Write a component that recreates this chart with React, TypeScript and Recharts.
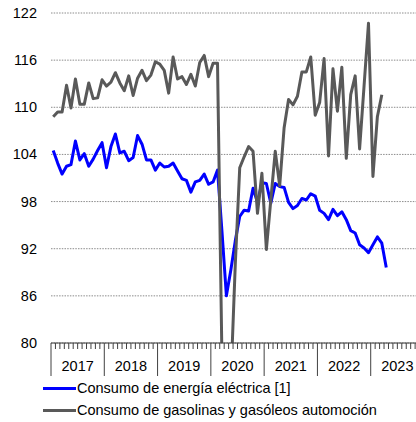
import { LineChart, Line, XAxis, YAxis, CartesianGrid } from "recharts"

// Monthly index, Jan 2017 .. Apr 2023
const YEARS = ["2017", "2018", "2019", "2020", "2021", "2022", "2023"]
const Y_TICKS = [80, 86, 92, 98, 104, 110, 116, 122]

const ELECTRICITY = [
  104.5, 102.9, 101.5, 102.5, 102.7, 105.7, 103.3, 104.1, 102.5, 103.4, 104.5, 105.5,
  102.3, 105.0, 106.6, 104.2, 104.4, 103.2, 103.6, 106.4, 105.3, 103.3, 103.3, 102.0,
  102.9, 102.4, 102.5, 102.9, 101.9, 100.9, 100.7, 99.2, 100.5, 100.7, 101.5, 100.2,
  100.5, 102.0, 94.2, 86.0, 89.3, 93.0, 96.1, 96.9, 96.8, 99.7, 97.9, 100.4,
  100.3, 97.8, 100.3, 99.9, 99.8, 97.9, 97.1, 97.5, 98.4, 98.2, 99.0, 98.7,
  96.9, 96.5, 95.7, 97.0, 96.2, 96.7, 95.7, 94.3, 94.0, 92.5, 92.1, 91.5,
  92.5, 93.5, 92.7, 89.6,
]

const FUELS = [
  108.8, 109.4, 109.4, 112.8, 109.9, 113.6, 110.4, 110.4, 113.1, 111.1, 111.2, 113.5,
  112.7, 113.2, 114.4, 113.1, 112.1, 114.0, 111.5, 113.7, 114.7, 113.4, 114.1, 115.8,
  115.5, 114.7, 111.8, 116.4, 113.6, 113.9, 112.9, 114.2, 112.7, 115.7, 116.6, 113.9,
  115.6, 115.6, 78.0, 50.0, 75.0, 90.0, 102.3, 103.7, 105.0, 104.4, 96.5, 101.6,
  91.9, 98.2, 104.4, 100.0, 107.4, 111.0, 110.3, 111.4, 114.5, 114.5, 116.4, 109.0,
  110.6, 116.2, 103.8, 114.9, 109.5, 115.1, 103.5, 111.6, 114.0, 104.7, 112.7, 120.7,
  101.2, 108.8, 111.6,
]

const SERIES = [
  { key: "elec", name: "Consumo de energía eléctrica [1]", color: "#0000ff" },
  { key: "fuel", name: "Consumo de gasolinas y gasóleos automoción", color: "#595959" },
]

const data = ELECTRICITY.map((v, i) => ({
  m: i + 0.5,
  elec: v,
  fuel: i < FUELS.length ? FUELS[i] : null,
}))

const MONTH_TICKS = Array.from({ length: YEARS.length * 12 + 1 }, (_, i) => i)
const FONT = "'Liberation Sans', Arial, sans-serif"

function XTick({ x, y, payload }: any) {
  const i = payload.value as number
  const yearStart = i % 12 === 0
  const label = i % 12 === 6 ? YEARS[Math.floor(i / 12)] : null
  return (
    <g>
      <line x1={x} x2={x} y1={y} y2={y + (yearStart ? 33 : 6)} stroke="#404040" strokeWidth={1} />
      {label && (
        <text x={x} y={y + 28} textAnchor="middle" fontSize={14.5} fontFamily={FONT} fill="#000">
          {label}
        </text>
      )}
    </g>
  )
}

function YTick({ x, y, payload }: any) {
  return (
    <text x={x - 14} y={y + 5} textAnchor="end" fontSize={14.5} fontFamily={FONT} fill="#000">
      {payload.value}
    </text>
  )
}

export default function App() {
  return (
    <div
      style={{
        position: "absolute",
        left: 0,
        top: 0,
        width: 416,
        height: 422,
        overflow: "hidden",
        background: "#fff",
        fontFamily: FONT,
      }}
    >
      <LineChart width={440} height={422} data={data} margin={{ top: 13, right: 16, bottom: 39, left: 0 }}>
        <CartesianGrid vertical={false} stroke="#8c8c8c" strokeDasharray="1.5 1.2" />
        <XAxis
          dataKey="m"
          type="number"
          domain={[0, 84]}
          ticks={MONTH_TICKS}
          interval={0}
          tick={<XTick />}
          tickSize={0}
          tickMargin={0}
          tickLine={false}
          axisLine={{ stroke: "#404040", strokeWidth: 1 }}
          height={40}
        />
        <YAxis
          domain={[80, 122]}
          ticks={Y_TICKS}
          allowDataOverflow
          interval={0}
          width={51}
          tick={<YTick />}
          tickSize={0}
          tickMargin={0}
          tickLine={false}
          axisLine={false}
        />
        {SERIES.map((s) => (
          <Line
            key={s.key}
            dataKey={s.key}
            name={s.name}
            type="linear"
            stroke={s.color}
            strokeWidth={3}
            strokeLinejoin="round"
            dot={false}
            connectNulls={false}
            isAnimationActive={false}
          />
        ))}
      </LineChart>

      {/* legend */}
      {SERIES.map((s, idx) => (
        <div
          key={s.key}
          style={{
            position: "absolute",
            left: 43,
            top: 378 + idx * 22,
            height: 20,
            display: "flex",
            alignItems: "center",
            fontSize: 14.5,
            color: "#000",
            whiteSpace: "nowrap",
          }}
        >
          <span style={{ display: "inline-block", width: 33, height: 3, background: s.color, marginRight: 1 }} />
          {s.name}
        </div>
      ))}
    </div>
  )
}
